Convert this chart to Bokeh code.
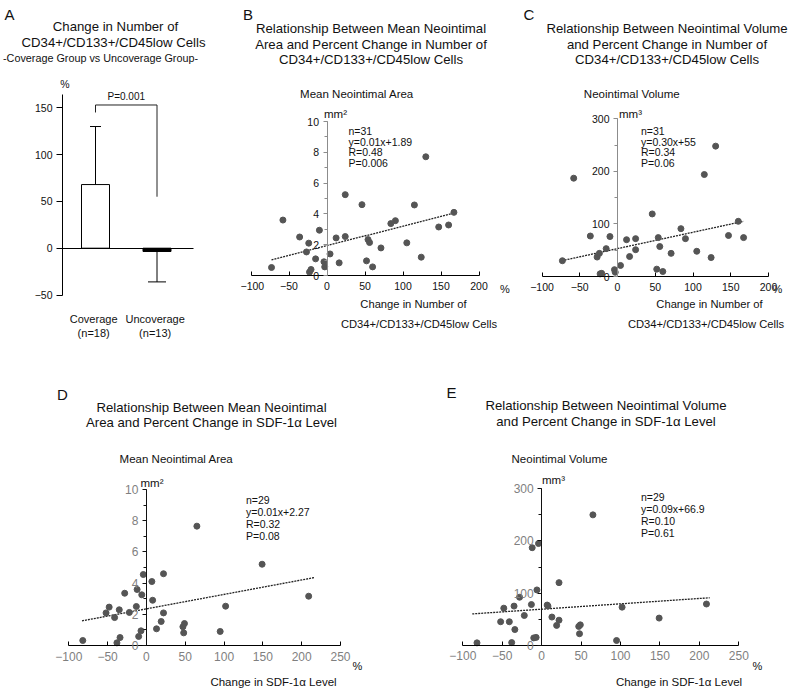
from bokeh.plotting import figure
from bokeh.models import Range1d, Label, SingleIntervalTicker, FixedTicker
from bokeh.layouts import row, column
from bokeh.embed import file_html
from bokeh.resources import INLINE

FONT = "Liberation Sans"
DOT = "#555555"

# ---------------- data ----------------
# Panel A
groups = ["Coverage", "Uncoverage"]
group_n = ["(n=18)", "(n=13)"]
group_mean = [68, -3.5]
group_sd_end = [130, -36]
bracket_y = [145, 153, 153, 55]
a_p_text = "P=0.001"

# Panels B, C  (x = % change in CD34+/CD133+/CD45low cells)
cd34_change = [-73, -58, -36, -27, -24, -23, -21, -15, -10, -4, -3, 4, 12, 16, 24, 24,
               46, 52, 54, 56, 60, 71, 84, 90, 105, 115, 124, 130, 147, 160, 167]
area_b = [0.52, 3.6, 2.5, 1.53, 2.1, 0.22, 0.39, 1.08, 2.94, 0.89, 0.56, 1.4, 2.44, 0.82,
          5.25, 2.53, 4.6, 0.95, 2.33, 2.14, 0.56, 1.79, 3.37, 3.56, 2.12, 4.58, 1.19, 7.71,
          3.15, 3.28, 4.1]
volume_c = [30, 187, 77, 37, 44, 5, 6, 53, 76, 13, 8, 21, 70, 38, 72, 51, 119, 14, 74, 57,
            9.5, 44, 91, 72, 48, 194, 36, 248, 78, 105, 74]
fit_b_x = [-73, 167]
fit_b_y = [1.02, 4.05]
fit_c_x = [-74, 167]
fit_c_y = [30, 105]
stats_b = ["n=31", "y=0.01x+1.89", "R=0.48", "P=0.006"]
stats_c = ["n=31", "y=0.30x+55", "R=0.34", "P=0.06"]

# Panels D, E  (x = % change in SDF-1alpha level)
sdf_change = [-82, -52, -48, -41, -38, -35, -34, -28, -22, -13, -12, -10, -7, -6, -4, 7, 8,
              13, 19, 22, 22, 47, 48, 49, 65, 95, 102, 149, 209]
area_d = [0.32, 2.09, 2.46, 1.79, 0.17, 2.29, 0.51, 3.35, 2.12, 2.5, 3.59, 0.58, 0.94, 3.25,
          4.55, 4.1, 2.9, 1.07, 1.54, 4.6, 2.09, 1.2, 0.81, 1.41, 7.65, 0.9, 2.52, 5.21, 3.16]
volume_e = [4.5, 45, 71, 45, 5, 75, 30, 92, 57, 78, 187, 14, 15, 106, 195, 77, 75, 54, 38,
            120, 48, 36, 22, 39, 250, 9, 73, 52, 79]
fit_d_x = [-83, 217]
fit_d_y = [1.58, 4.36]
fit_e_x = [-88, 213]
fit_e_y = [60, 91]
stats_d = ["n=29", "y=0.01x+2.27", "R=0.32", "P=0.08"]
stats_e = ["n=29", "y=0.09x+66.9", "R=0.10", "P=0.61"]


# ---------------- helpers ----------------
class Cal:
    """Maps page pixel positions to data values for one panel."""
    def __init__(self, L, T, W, H, xa, pxa, xb, pxb, ya, pya, yb, pyb):
        self.L, self.T, self.W, self.H = L, T, W, H
        self.xa, self.pxa, self.sx = xa, pxa, (pxb - pxa) / (xb - xa)
        self.ya, self.pya, self.sy = ya, pya, (pyb - pya) / (yb - ya)

    def dx(self, px):
        return self.xa + (px - self.pxa) / self.sx

    def dy(self, py):
        return self.ya + (py - self.pya) / self.sy


def make_fig(c):
    p = figure(width=c.W, height=c.H,
               x_range=Range1d(c.dx(c.L), c.dx(c.L + c.W)),
               y_range=Range1d(c.dy(c.T + c.H), c.dy(c.T)),
               output_backend="svg", toolbar_location=None, min_border=0,
               outline_line_color=None, background_fill_color="white",
               border_fill_color="white")
    p.xgrid.visible = False
    p.ygrid.visible = False
    return p


def label(p, c, px, py, text, size, align="left", color="#111111", x=None):
    p.add_layout(Label(x=c.dx(px) if x is None else x, y=c.dy(py), text=text,
                       text_font=FONT, text_font_size=f"{size}px", text_align=align,
                       text_baseline="middle", text_color=color))


def style_axis(ax, loc, bounds, ticker, line_color, tick_color, label_color, size,
               tick_in, tick_out, minor_out, standoff):
    ax.fixed_location = loc
    ax.bounds = bounds
    ax.ticker = ticker
    ax.axis_line_color = line_color
    ax.axis_line_width = 1
    ax.major_tick_line_color = tick_color
    ax.minor_tick_line_color = tick_color
    ax.major_tick_in = tick_in
    ax.major_tick_out = tick_out
    ax.minor_tick_in = 0
    ax.minor_tick_out = minor_out
    ax.major_label_text_font = FONT
    ax.major_label_text_font_size = f"{size}px"
    ax.major_label_text_color = label_color
    ax.major_label_standoff = standoff


# ---------------- Panel A ----------------
ca = Cal(0, 0, 240, 340, 1, 95, 2, 156.5, 0, 247.7, 150, 107.3)
pa = make_fig(ca)
pos = [i + 1 for i in range(len(groups))]
pa.vbar(x=pos, top=group_mean, bottom=0, width=28 / ca.sx,
        fill_color=["white", "black"], line_color="black", line_width=1)
pa.segment(x0=pos, y0=group_mean, x1=pos, y1=group_sd_end, line_color="black", line_width=1)
cap_half = [5.5 / ca.sx, 9 / ca.sx]
pa.segment(x0=[p_ - h for p_, h in zip(pos, cap_half)], y0=group_sd_end,
           x1=[p_ + h for p_, h in zip(pos, cap_half)], y1=group_sd_end,
           line_color="black", line_width=1)
pa.line(x=[pos[0], pos[0], pos[1], pos[1]], y=bracket_y, line_color="#222222", line_width=1)
style_axis(pa.yaxis[0], ca.dx(62), (-50, 164), SingleIntervalTicker(interval=50, num_minor_ticks=0),
           "black", "black", "#111111", 10.5, 0, 6, 0, 4)
style_axis(pa.xaxis[0], 0, (ca.dx(62), ca.dx(193)), FixedTicker(ticks=[]),
           "black", "black", "#111111", 10.5, 0, 0, 0, 4)
label(pa, ca, 4, 14, "A", 15)
label(pa, ca, 115, 26, "Change in Number of", 13.2, "center")
label(pa, ca, 113, 42, "CD34+/CD133+/CD45low Cells", 13.2, "center")
label(pa, ca, 100, 57.5, "-Coverage Group vs Uncoverage Group-", 10.8, "center")
label(pa, ca, 64.5, 83, "%", 10.5, "center")
label(pa, ca, 0, 96, a_p_text, 10, "center", x=(pos[0] + pos[1]) / 2)
for g, n, xp in zip(groups, group_n, pos):
    label(pa, ca, 0, 318, g, 11, "center", x=xp - 0.03)
    label(pa, ca, 0, 332, n, 11, "center", x=xp - 0.03)


# ---------------- scatter panel builder ----------------
def scatter_panel(c, xs, ys, fx, fy, xb, yb, y_int, y_line_color, lab_color, lab_size,
                  x_standoff):
    p = make_fig(c)
    p.line(x=fx, y=fy, line_color="#222222", line_width=1.3, line_dash="2 1")
    p.scatter(x=xs, y=ys, size=6, color=DOT, line_color=DOT)
    style_axis(p.xaxis[0], 0, xb, SingleIntervalTicker(interval=50, num_minor_ticks=0),
               "black", "black", lab_color, lab_size, 4, 0, 0, x_standoff)
    style_axis(p.yaxis[0], 0, yb, SingleIntervalTicker(interval=y_int, num_minor_ticks=2),
               y_line_color, y_line_color, lab_color, lab_size, 0, 4, 3, 4)
    return p


# ---------------- Panel B ----------------
cb = Cal(240, 0, 280, 340, -100, 250.5, 200, 478.5, 0, 275, 10, 121)
pb = scatter_panel(cb, cd34_change, area_b, fit_b_x, fit_b_y, (-100, 200), (0, 10), 2,
                   "#8c8c8c", "#111111", 10.5, 6)
label(pb, cb, 242.5, 14, "B", 15)
for t, yy in zip(["Relationship Between Mean Neointimal",
                  "Area and Percent Change in Number of",
                  "CD34+/CD133+/CD45low Cells"], [28, 43.5, 59]):
    label(pb, cb, 370.5, yy, t, 13.2, "center")
label(pb, cb, 356.5, 93, "Mean Neointimal Area", 11.5, "center")
label(pb, cb, 323.5, 113, "mm\u00b2", 11.5)
for t, yy in zip(stats_b, [130, 141, 151.5, 162]):
    label(pb, cb, 348, yy, t, 10.5)
label(pb, cb, 504.5, 288, "%", 11, "center")
label(pb, cb, 413, 303, "Change in Number of", 11.2, "center")
label(pb, cb, 418.5, 323, "CD34+/CD133+/CD45low Cells", 11.2, "center")

# ---------------- Panel C ----------------
cc = Cal(520, 0, 273, 340, -100, 541.5, 200, 768, 0, 276, 300, 118.3)
pc = scatter_panel(cc, cd34_change, volume_c, fit_c_x, fit_c_y, (-100, 200), (0, 300), 100,
                   "#8c8c8c", "#111111", 10.5, 6)
label(pc, cc, 523, 14, "C", 15)
for t, yy in zip(["Relationship Between Neointimal Volume",
                  "and Percent Change in Number of",
                  "CD34+/CD133+/CD45low Cells"], [28, 43.5, 59]):
    label(pc, cc, 666.5, yy, t, 13.2, "center")
label(pc, cc, 631.3, 93, "Neointimal Volume", 11.5, "center")
label(pc, cc, 618.5, 113, "mm\u00b3", 11.5)
for t, yy in zip(stats_c, [130, 141, 151.5, 162]):
    label(pc, cc, 640.5, yy, t, 10.5)
label(pc, cc, 777, 288, "%", 11, "center")
label(pc, cc, 709, 303, "Change in Number of", 11.2, "center")
label(pc, cc, 705.5, 323, "CD34+/CD133+/CD45low Cells", 11.2, "center")

# ---------------- Panel D ----------------
cd = Cal(0, 340, 400, 350, -100, 68.3, 250, 340, 0, 645, 10, 489)
pd_ = scatter_panel(cd, sdf_change, area_d, fit_d_x, fit_d_y, (-100, 250), (0, 10), 2,
                    "#111111", "#7f7f7f", 12, 6)
label(pd_, cd, 56.5, 393.5, "D", 15)
label(pd_, cd, 211, 407, "Relationship Between Mean Neointimal", 13.2, "center")
label(pd_, cd, 211, 422, "Area and Percent Change in SDF-1\u03b1 Level", 13.2, "center")
label(pd_, cd, 176, 458, "Mean Neointimal Area", 11.5, "center")
label(pd_, cd, 140, 482, "mm\u00b2", 11.5)
for t, yy in zip(stats_d, [499, 511, 523, 535]):
    label(pd_, cd, 245.5, yy, t, 10.5)
label(pd_, cd, 357, 665, "%", 11, "center")
label(pd_, cd, 273, 681, "Change in SDF-1\u03b1 Level", 11.5, "center")

# ---------------- Panel E ----------------
ce = Cal(400, 340, 393, 350, -100, 462.3, 250, 738.3, 0, 644.7, 300, 488.3)
pe = scatter_panel(ce, sdf_change, volume_e, fit_e_x, fit_e_y, (-100, 250), (0, 300), 100,
                   "#111111", "#7f7f7f", 12, 6)
label(pe, ce, 446, 392, "E", 15)
label(pe, ce, 605.5, 405, "Relationship Between Neointimal Volume", 13.2, "center")
label(pe, ce, 605.5, 421, "and Percent Change in SDF-1\u03b1 Level", 13.2, "center")
label(pe, ce, 559, 458, "Neointimal Volume", 11.5, "center")
label(pe, ce, 541.5, 479, "mm\u00b3", 11.5)
for t, yy in zip(stats_e, [496, 508, 520, 532]):
    label(pe, ce, 640.5, yy, t, 10.5)
label(pe, ce, 757, 665, "%", 11, "center")
label(pe, ce, 678.5, 681, "Change in SDF-1\u03b1 Level", 11.5, "center")

layout = column(row(pa, pb, pc), row(pd_, pe))
open("out.html", "w").write(file_html(layout, INLINE))
